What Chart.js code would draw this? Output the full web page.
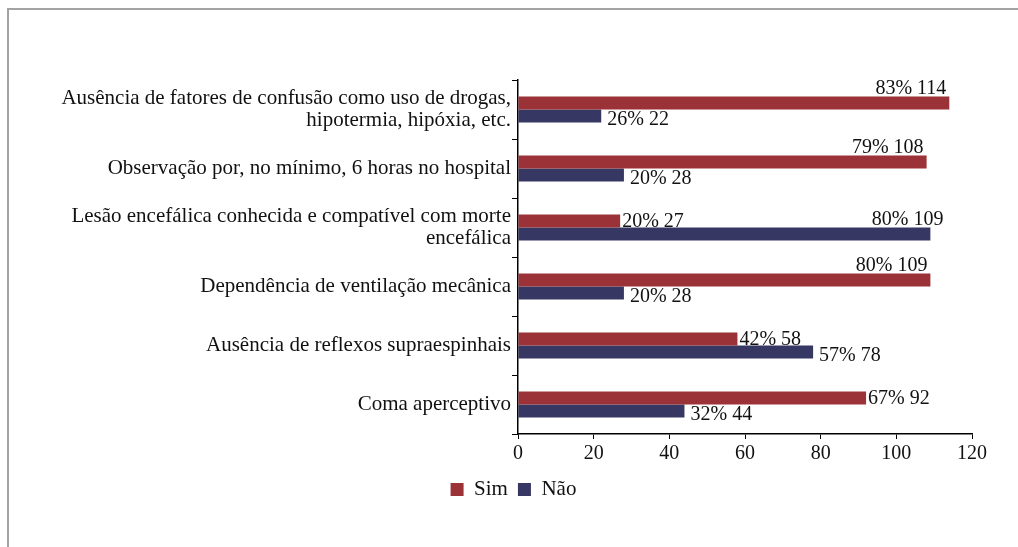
<!DOCTYPE html>
<html>
<head>
<meta charset="utf-8">
<script src="https://cdn.jsdelivr.net/npm/chart.js@4"></script>
<style>
  body { margin: 0; background: #fff; }
  .frame {
    position: absolute; left: 7px; top: 8px;
    width: 1011px; height: 539px;
    border-left: 2px solid #a3a3a3; border-top: 2px solid #a3a3a3;
  }
</style>
</head>
<body>
<div class="frame"><canvas id="chart" width="1009" height="537"></canvas></div>
<script>
// categories (top to bottom)
const categories = [
    ['Ausência de fatores de confusão como uso de drogas,', 'hipotermia, hipóxia, etc.'],
    'Observação por, no mínimo, 6 horas no hospital',
    ['Lesão encefálica conhecida e compatível com morte', 'encefálica'],
    'Dependência de ventilação mecânica',
    'Ausência de reflexos supraespinhais',
    'Coma aperceptivo'
];
const simCounts = [114, 108, 27, 109, 58, 92];
const simPct = [83, 79, 20, 80, 42, 67];
const naoCounts = [22, 28, 109, 28, 78, 44];
const naoPct = [26, 20, 80, 20, 57, 32];
const xTicks = [0, 20, 40, 60, 80, 100, 120];

const FONT = '"Liberation Serif", "Times New Roman", serif';

// value labels: long bars get the label above the bar, others to the right
const valueLabels = {
    id: 'valueLabels',
    afterDatasetsDraw(chart) {
        const ctx = chart.ctx;
        ctx.save();
        ctx.font = '20px ' + FONT;
        ctx.fillStyle = '#111';
        ctx.textBaseline = 'alphabetic';
        chart.data.datasets.forEach((ds, di) => {
            const meta = chart.getDatasetMeta(di);
            meta.data.forEach((bar, i) => {
                const text = ds.pct[i] + '% ' + ds.data[i];
                const h = bar.height;
                if (ds.data[i] >= 100) {
                    ctx.textAlign = 'right';
                    ctx.fillText(text, bar.x + (di === 0 ? -3 : 13), bar.y - h / 2 - 3);
                } else if (di === 0) {
                    ctx.textAlign = 'left';
                    ctx.fillText(text, bar.x + 2, bar.y + h / 2 - 1);
                } else {
                    ctx.textAlign = 'left';
                    ctx.fillText(text, bar.x + 6, bar.y + h / 2 + 3);
                }
            });
        });
        ctx.restore();
    }
};

new Chart(document.getElementById('chart'), {
    type: 'bar',
    data: {
        labels: categories,
        datasets: [{
            label: 'Sim',
            data: simCounts,
            pct: simPct,
            backgroundColor: '#9a3237'
        }, {
            label: 'Não',
            data: naoCounts,
            pct: naoPct,
            backgroundColor: '#373763'
        }]
    },
    options: {
        indexAxis: 'y',
        responsive: false,
        animation: false,
        categoryPercentage: 0.44,
        barPercentage: 1,
        layout: { padding: { top: 70, right: 46, bottom: 37, left: 46 } },
        scales: {
            x: {
                min: 0,
                max: 120,
                afterBuildTicks: s => { s.ticks = xTicks.map(v => ({ value: v })); },
                afterFit: s => { s.height = 35; },
                grid: { drawOnChartArea: false, tickLength: 5, color: '#000' },
                border: { color: '#000', width: 1.5 },
                ticks: { color: '#111', padding: 3, font: { family: FONT, size: 20 } }
            },
            y: {
                afterFit: s => { s.width = 463; },
                grid: { drawOnChartArea: false, tickLength: 6, color: '#000', offset: true },
                border: { color: '#000', width: 1.5 },
                ticks: { color: '#111', padding: 1, font: { family: FONT, size: 21, lineHeight: 1.08 } }
            }
        },
        plugins: {
            legend: {
                position: 'bottom',
                labels: {
                    boxWidth: 13,
                    boxHeight: 13,
                    padding: 10,
                    color: '#111',
                    font: { family: FONT, size: 21 }
                }
            },
            tooltip: { enabled: false }
        }
    },
    plugins: [valueLabels]
});
</script>
</body>
</html>
